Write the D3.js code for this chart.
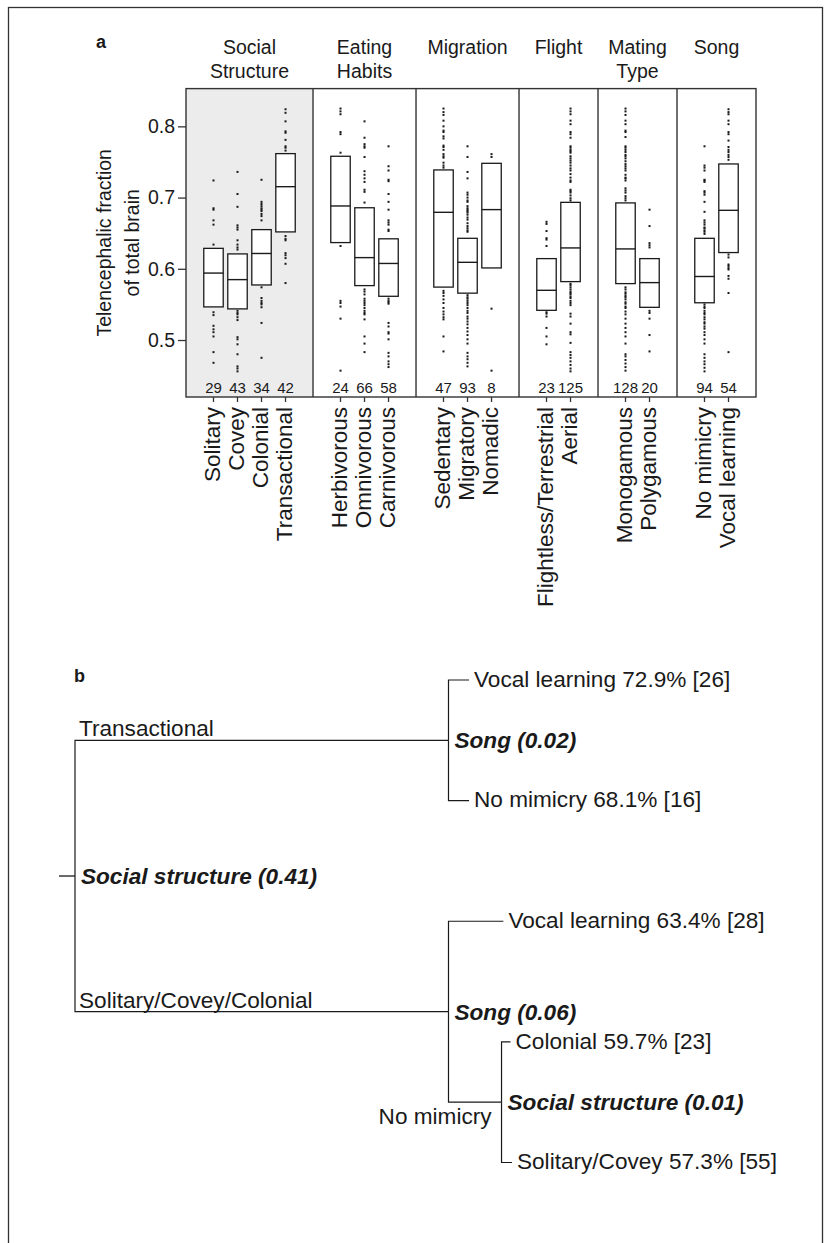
<!DOCTYPE html>
<html>
<head>
<meta charset="utf-8">
<script src="https://cdn.jsdelivr.net/npm/d3@7"></script>
<style>
  body { margin: 0; background: #fff; }
  svg { display: block; font-family: "Liberation Sans", Arial, Helvetica, sans-serif; }
</style>
</head>
<body>
<svg id="chart" width="831" height="1243"></svg>
<script>
// ---------- Panel a: telencephalic fraction by life-history trait ----------
const groupTitles = [["Social", "Structure"], ["Eating", "Habits"], ["Migration"], ["Flight"], ["Mating", "Type"], ["Song"]];
const groupCategories = [
  ["Solitary", "Covey", "Colonial", "Transactional"],
  ["Herbivorous", "Omnivorous", "Carnivorous"],
  ["Sedentary", "Migratory", "Nomadic"],
  ["Flightless/Terrestrial", "Aerial"],
  ["Monogamous", "Polygamous"],
  ["No mimicry", "Vocal learning"]
];
const sampleSizes   = [29, 43, 34, 42, 24, 66, 58, 47, 93, 8, 23, 125, 128, 20, 94, 54];
const lowerQuartile = [0.5465, 0.5437, 0.5773, 0.6518, 0.6368, 0.5764, 0.5614, 0.5743, 0.5658, 0.6012, 0.5417, 0.5820, 0.5792, 0.5459, 0.5523, 0.6228];
const medians       = [0.5940, 0.5848, 0.6215, 0.7153, 0.6882, 0.6157, 0.6075, 0.6793, 0.6091, 0.6831, 0.5698, 0.6293, 0.6279, 0.5806, 0.5892, 0.6821];
const upperQuartile = [0.6287, 0.6209, 0.6550, 0.7617, 0.7580, 0.6857, 0.6421, 0.7388, 0.6428, 0.7481, 0.6143, 0.6933, 0.6925, 0.6143, 0.6428, 0.7472];
const yTicks = [0.5, 0.6, 0.7, 0.8];
const yLimits = [0.42, 0.853];

// species values lying outside each box
const ptsSolitary = [0.724, 0.685, 0.683, 0.668, 0.662, 0.634, 0.539, 0.535, 0.520, 0.515, 0.511, 0.505, 0.483, 0.468];
const ptsCovey = [0.736, 0.705, 0.687, 0.661, 0.658, 0.655, 0.640, 0.634, 0.630, 0.627, 0.541, 0.538, 0.536, 0.532, 0.528, 0.504, 0.501, 0.494, 0.480, 0.463, 0.460, 0.456];
const ptsColonial = [0.725, 0.694, 0.691, 0.688, 0.685, 0.683, 0.681, 0.677, 0.674, 0.668, 0.574, 0.559, 0.555, 0.552, 0.550, 0.546, 0.524, 0.475];
const ptsTransactional = [0.824, 0.819, 0.807, 0.793, 0.791, 0.781, 0.772, 0.770, 0.766, 0.646, 0.642, 0.640, 0.622, 0.619, 0.615, 0.607, 0.580];
const ptsHerbivorous = [0.825, 0.821, 0.817, 0.792, 0.789, 0.763, 0.632, 0.555, 0.552, 0.547, 0.530, 0.457];
const ptsOmnivorous = [0.807, 0.784, 0.775, 0.772, 0.770, 0.757, 0.737, 0.732, 0.727, 0.722, 0.711, 0.708, 0.693, 0.571, 0.568, 0.564, 0.558, 0.555, 0.552, 0.549, 0.545, 0.541, 0.538, 0.536, 0.529, 0.505, 0.495, 0.483];
const ptsCarnivorous = [0.772, 0.744, 0.738, 0.725, 0.723, 0.705, 0.694, 0.683, 0.668, 0.665, 0.662, 0.655, 0.653, 0.558, 0.555, 0.553, 0.551, 0.524, 0.519, 0.511, 0.509, 0.501, 0.482, 0.477, 0.470, 0.466, 0.462];
const ptsSedentary = [0.825, 0.820, 0.816, 0.808, 0.800, 0.794, 0.792, 0.786, 0.783, 0.773, 0.771, 0.767, 0.761, 0.758, 0.756, 0.749, 0.745, 0.742, 0.569, 0.566, 0.562, 0.557, 0.552, 0.545, 0.540, 0.536, 0.532, 0.529, 0.505, 0.484];
const ptsMigratory = [0.772, 0.757, 0.736, 0.727, 0.707, 0.704, 0.700, 0.696, 0.694, 0.688, 0.685, 0.683, 0.681, 0.679, 0.676, 0.672, 0.669, 0.664, 0.660, 0.657, 0.654, 0.652, 0.563, 0.560, 0.558, 0.555, 0.552, 0.549, 0.545, 0.541, 0.538, 0.533, 0.530, 0.526, 0.522, 0.517, 0.512, 0.507, 0.501, 0.495, 0.482, 0.477, 0.473, 0.468, 0.463];
const ptsNomadic = [0.761, 0.757, 0.544, 0.457];
const ptsFlightless = [0.666, 0.663, 0.653, 0.643, 0.641, 0.632, 0.539, 0.537, 0.533, 0.517, 0.505, 0.494];
const ptsAerial = [0.825, 0.821, 0.817, 0.808, 0.803, 0.792, 0.789, 0.784, 0.772, 0.770, 0.767, 0.765, 0.763, 0.758, 0.755, 0.752, 0.749, 0.745, 0.741, 0.738, 0.733, 0.728, 0.724, 0.722, 0.711, 0.709, 0.707, 0.703, 0.699, 0.696, 0.579, 0.577, 0.574, 0.571, 0.568, 0.566, 0.564, 0.561, 0.559, 0.555, 0.552, 0.549, 0.537, 0.533, 0.523, 0.511, 0.508, 0.496, 0.483, 0.479, 0.475, 0.470, 0.465, 0.460, 0.456];
const ptsMonogamous = [0.825, 0.821, 0.816, 0.808, 0.803, 0.794, 0.792, 0.785, 0.772, 0.770, 0.767, 0.764, 0.760, 0.758, 0.755, 0.751, 0.747, 0.744, 0.741, 0.738, 0.732, 0.728, 0.727, 0.724, 0.713, 0.710, 0.707, 0.702, 0.699, 0.696, 0.574, 0.571, 0.567, 0.565, 0.562, 0.560, 0.557, 0.553, 0.551, 0.547, 0.545, 0.540, 0.536, 0.530, 0.523, 0.517, 0.511, 0.505, 0.495, 0.480, 0.477, 0.472, 0.467, 0.462, 0.457];
const ptsPolygamous = [0.683, 0.660, 0.636, 0.633, 0.630, 0.541, 0.538, 0.530, 0.507, 0.484];
const ptsNoMimicry = [0.772, 0.745, 0.742, 0.738, 0.725, 0.724, 0.722, 0.709, 0.707, 0.704, 0.694, 0.680, 0.668, 0.665, 0.662, 0.658, 0.657, 0.654, 0.652, 0.649, 0.550, 0.547, 0.545, 0.541, 0.538, 0.536, 0.532, 0.529, 0.525, 0.523, 0.519, 0.516, 0.511, 0.507, 0.501, 0.495, 0.480, 0.475, 0.470, 0.466, 0.461, 0.456];
const ptsVocalLearning = [0.824, 0.820, 0.817, 0.808, 0.803, 0.792, 0.789, 0.780, 0.771, 0.767, 0.764, 0.760, 0.757, 0.753, 0.620, 0.616, 0.606, 0.604, 0.601, 0.599, 0.590, 0.586, 0.566, 0.483];
const outerPoints = [ptsSolitary, ptsCovey, ptsColonial, ptsTransactional, ptsHerbivorous, ptsOmnivorous, ptsCarnivorous,
  ptsSedentary, ptsMigratory, ptsNomadic, ptsFlightless, ptsAerial, ptsMonogamous, ptsPolygamous, ptsNoMimicry, ptsVocalLearning];

// ---------- Panel b: regression tree ----------
const treeIds       = ["root", "trans", "transVocal", "transNoMimic", "scc", "sccVocal", "sccNoMimic", "sccColonial", "sccSolCovey"];
const treeParents   = [null, "root", "trans", "trans", "root", "scc", "scc", "sccNoMimic", "sccNoMimic"];
const branchLabels  = ["", "Transactional", "", "", "Solitary/Covey/Colonial", "", "No mimicry", "", ""];
const splitLabels   = ["Social structure (0.41)", "Song (0.02)", "", "", "Song (0.06)", "", "Social structure (0.01)", "", ""];
const leafNames     = ["", "", "Vocal learning", "No mimicry", "", "Vocal learning", "", "Colonial", "Solitary/Covey"];
const leafMeanPct   = [null, null, 72.9, 68.1, null, 63.4, null, 59.7, 57.3];
const leafCounts    = [null, null, 26, 16, null, 28, null, 23, 55];
const branchLengths = [0, 1, 0.055, 0.055, 1, 0.147, 0.142, 0.024, 0.028];

const svg = d3.select("#chart");
const ink = "#1a1a1a";

// outer frame
svg.append("rect").attr("x", 8.5).attr("y", 7.5).attr("width", 814).attr("height", 1300)
  .attr("fill", "none").attr("stroke", "#333").attr("stroke-width", 1.3);

// ----- layout of the boxplot panels -----
const groupPad = 1.29;           // spacing (in box slots) around each group
const boxWidth = 0.81;
const cats = [];
const groups = [];
let cursor = 0;
groupCategories.forEach((list, g) => {
  const start = cursor;
  list.forEach((name, i) => cats.push({ name, group: g, pos: start + groupPad / 2 + i + 0.5 }));
  cursor += list.length + groupPad;
  groups.push({ title: groupTitles[g], start, end: cursor });
});
cats.forEach((c, i) => {
  c.n = sampleSizes[i]; c.q1 = lowerQuartile[i]; c.med = medians[i]; c.q3 = upperQuartile[i]; c.pts = outerPoints[i];
});

const x = d3.scaleLinear().domain([0, cursor]).range([186, 756]);
const y = d3.scaleLinear().domain(yLimits).range([397, 88.6]);
const plotTop = y(yLimits[1]), plotBottom = y(yLimits[0]);

const pa = svg.append("g");

// shaded first group
pa.append("rect").attr("x", x(groups[0].start)).attr("y", plotTop)
  .attr("width", x(groups[0].end) - x(groups[0].start)).attr("height", plotBottom - plotTop)
  .attr("fill", "#ececec");

// individual species
pa.append("g").selectAll("g").data(cats).join("g")
  .selectAll("rect").data(d => d.pts.map(v => ({ v, pos: d.pos }))).join("rect")
  .attr("x", d => x(d.pos) - 1).attr("y", d => y(d.v) - 1)
  .attr("width", 2).attr("height", 2).attr("fill", ink);

// boxes
const boxes = pa.append("g").selectAll("g").data(cats).join("g");
boxes.append("rect")
  .attr("x", d => x(d.pos - boxWidth / 2)).attr("y", d => y(d.q3))
  .attr("width", x(boxWidth) - x(0)).attr("height", d => y(d.q1) - y(d.q3))
  .attr("fill", "#fff").attr("stroke", ink).attr("stroke-width", 1.3);
boxes.append("line")
  .attr("x1", d => x(d.pos - boxWidth / 2)).attr("x2", d => x(d.pos + boxWidth / 2))
  .attr("y1", d => y(d.med)).attr("y2", d => y(d.med))
  .attr("stroke", ink).attr("stroke-width", 1.4);

// sample sizes
pa.append("g").selectAll("text").data(cats).join("text")
  .attr("x", d => x(d.pos)).attr("y", plotBottom - 4.5)
  .attr("text-anchor", "middle").attr("font-size", 15).attr("fill", ink)
  .text(d => d.n);

// group separators and frame
pa.append("g").selectAll("line").data(groups.slice(1)).join("line")
  .attr("x1", d => x(d.start)).attr("x2", d => x(d.start))
  .attr("y1", plotTop).attr("y2", plotBottom)
  .attr("stroke", "#333").attr("stroke-width", 1.4);
pa.append("rect").attr("x", x(0)).attr("y", plotTop).attr("width", x(cursor) - x(0)).attr("height", plotBottom - plotTop)
  .attr("fill", "none").attr("stroke", "#333").attr("stroke-width", 1.4);

// y axis
const yAxis = d3.axisLeft(y).tickValues(yTicks).tickFormat(d3.format(".1f")).tickSize(8).tickPadding(3);
const ya = pa.append("g").attr("transform", `translate(${x(0)},0)`).call(yAxis);
ya.select(".domain").remove();
ya.selectAll(".tick line").attr("stroke", "#333").attr("stroke-width", 1.3);
ya.selectAll(".tick text").attr("font-size", 19.5).attr("fill", ink)
  .attr("font-family", "\"Liberation Sans\", Arial, Helvetica, sans-serif");

// y title
const yMid = (plotTop + plotBottom) / 2;
[["Telencephalic fraction", 110.5], ["of total brain", 138.5]].forEach(([t, bx]) => {
  pa.append("text").attr("transform", `translate(${bx},${yMid}) rotate(-90)`)
    .attr("text-anchor", "middle").attr("font-size", 19.5).attr("fill", ink).text(t);
});

// category axis
const xa = pa.append("g");
xa.selectAll("line").data(cats).join("line")
  .attr("x1", d => x(d.pos)).attr("x2", d => x(d.pos))
  .attr("y1", plotBottom).attr("y2", plotBottom + 5)
  .attr("stroke", "#333").attr("stroke-width", 1.3);
xa.selectAll("text").data(cats).join("text")
  .attr("transform", d => `translate(${x(d.pos)},${plotBottom + 10}) rotate(-90)`)
  .attr("text-anchor", "end").attr("dy", "0.3em")
  .attr("font-size", 22.5).attr("fill", ink).text(d => d.name);

// group titles
groups.forEach(g => {
  g.title.forEach((line, k) => {
    pa.append("text").attr("x", (x(g.start) + x(g.end)) / 2).attr("y", 54 + k * 24)
      .attr("text-anchor", "middle").attr("font-size", 19.5).attr("fill", ink).text(line);
  });
});

// panel letter
pa.append("text").attr("x", 96).attr("y", 48).attr("font-size", 18).attr("font-weight", "bold")
  .attr("fill", ink).text("a");

// ----- regression tree -----
const nodes = treeIds.map((id, i) => ({
  id, parentId: treeParents[i], branch: branchLabels[i], split: splitLabels[i],
  leaf: leafNames[i], pct: leafMeanPct[i], n: leafCounts[i], len: branchLengths[i]
}));
const root = d3.stratify().id(d => d.id).parentId(d => d.parentId)(nodes);
root.eachBefore(d => { d.depthLen = (d.parent ? d.parent.depthLen : 0) + d.data.len; });
const leaves = root.leaves();
const xt = d3.scaleLinear().domain([0, 1]).range([75, 448.5]);
const yt = d3.scaleLinear().domain([0, leaves.length - 1]).range([680, 1162.5]);
leaves.forEach((d, i) => { d.py = yt(i); });
root.eachAfter(d => {
  if (d.children) d.py = (d.children[0].py + d.children[d.children.length - 1].py) / 2;
  d.px = xt(d.depthLen);
});

const pb = svg.append("g");
const treeFont = 22.6;

// root stub
pb.append("line").attr("x1", root.px - 16).attr("x2", root.px).attr("y1", root.py).attr("y2", root.py)
  .attr("stroke", ink).attr("stroke-width", 1.3);

// elbow connectors
pb.append("g").selectAll("path").data(root.descendants().filter(d => d.parent)).join("path")
  .attr("d", d => `M${d.parent.px},${d.parent.py}V${d.py}H${d.px}`)
  .attr("fill", "none").attr("stroke", ink).attr("stroke-width", 1.2);

// split variables with p-values
pb.append("g").selectAll("text").data(root.descendants().filter(d => d.data.split)).join("text")
  .attr("x", d => d.px + 6).attr("y", d => d.py).attr("dy", "0.35em")
  .attr("font-size", treeFont).attr("font-weight", "bold").attr("font-style", "italic")
  .attr("fill", ink).text(d => d.data.split);

// branch conditions
pb.append("g").selectAll("text").data(root.descendants().filter(d => d.data.branch)).join("text")
  .attr("x", d => d.parent === root ? d.parent.px + 4 : d.px - 10)
  .attr("y", d => d.parent === root ? d.py - 4 : d.py + 14)
  .attr("dy", d => d.parent === root ? 0 : "0.35em")
  .attr("text-anchor", d => d.parent === root ? "start" : "end")
  .attr("font-size", treeFont).attr("fill", ink).text(d => d.data.branch);

// leaves: mean telencephalic percentage and number of species
pb.append("g").selectAll("text").data(leaves).join("text")
  .attr("x", d => d.px + 5).attr("y", d => d.py).attr("dy", "0.3em")
  .attr("font-size", treeFont).attr("fill", ink)
  .text(d => `${d.data.leaf} ${d.data.pct.toFixed(1)}% [${d.data.n}]`);

pb.append("text").attr("x", 74).attr("y", 682).attr("font-size", 18).attr("font-weight", "bold")
  .attr("fill", ink).text("b");
</script>
</body>
</html>
